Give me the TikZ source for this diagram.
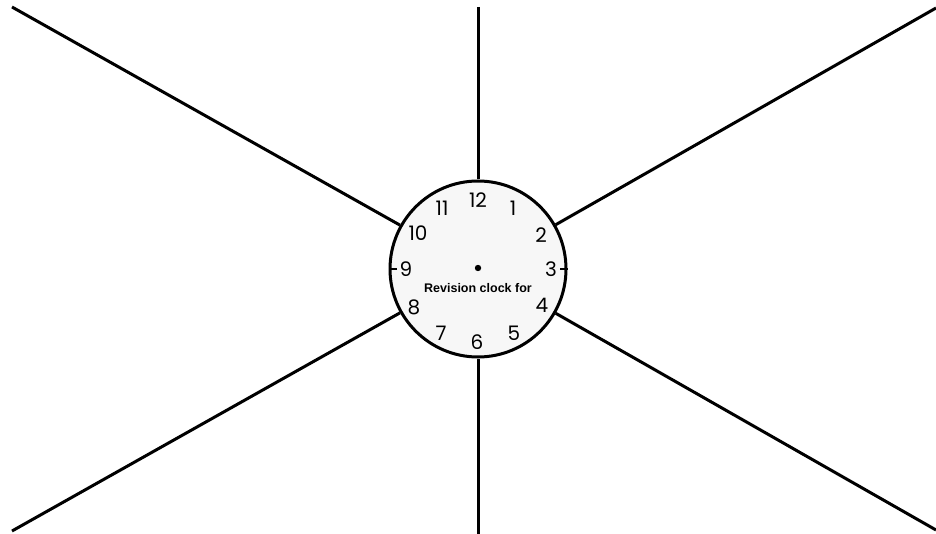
\documentclass[tikz,border=0pt]{standalone}
\usepackage{fontspec}
\setmainfont{Poppins}
\newfontfamily\labfont{Liberation Sans}
\begin{document}
\begin{tikzpicture}[x=1pt,y=-1pt,
  ray/.style={line width=3pt,black},
  num/.style={inner sep=0pt,font=\fontsize{20}{20}\selectfont},
  tick/.style={line width=2pt,black}]
\useasboundingbox (0,0) rectangle (936,534);
\fill[white] (0,0) rectangle (936,534);
\coordinate (ul) at (12,7);
\coordinate (ur) at (936,8);
\coordinate (ll) at (12,531);
\coordinate (lr) at (936,530);
\coordinate (tp) at (478,7);
\coordinate (bt) at (478,534);
\node[circle,draw,line width=3pt,fill=black!3,minimum size=176pt,inner sep=0pt] (clock) at (478,269) {};
\draw[ray] (ul) -- (clock);
\draw[ray] (ur) -- (clock);
\draw[ray] (ll) -- (clock);
\draw[ray] (lr) -- (clock);
\draw[ray] (tp) -- (clock);
\draw[ray] (bt) -- (clock);
\draw[tick] (560,269) -- (clock.east);
\draw[tick] (397,269) -- (clock.west);
\fill (478,268) circle (3.2pt);
\node[num] (n12) at (478,200) {12};
\node[num] (n1) at (513,208) {1};
\node[num] (n2) at (541,235) {2};
\node[num] (n3) at (551,269) {3};
\node[num] (n4) at (542,305) {4};
\node[num] (n5) at (514,333) {5};
\node[num] (n6) at (477,342) {6};
\node[num] (n7) at (441,333) {7};
\node[num] (n8) at (414,307) {8};
\node[num] (n9) at (406,269) {9};
\node[num] (n10) at (418,233) {10};
\node[num] (n11) at (442,208) {11};
\node[font=\labfont\bfseries\fontsize{12.5}{12.5}\selectfont,inner sep=0pt] (title) at (478,288) {Revision clock for};
\end{tikzpicture}
\end{document}
